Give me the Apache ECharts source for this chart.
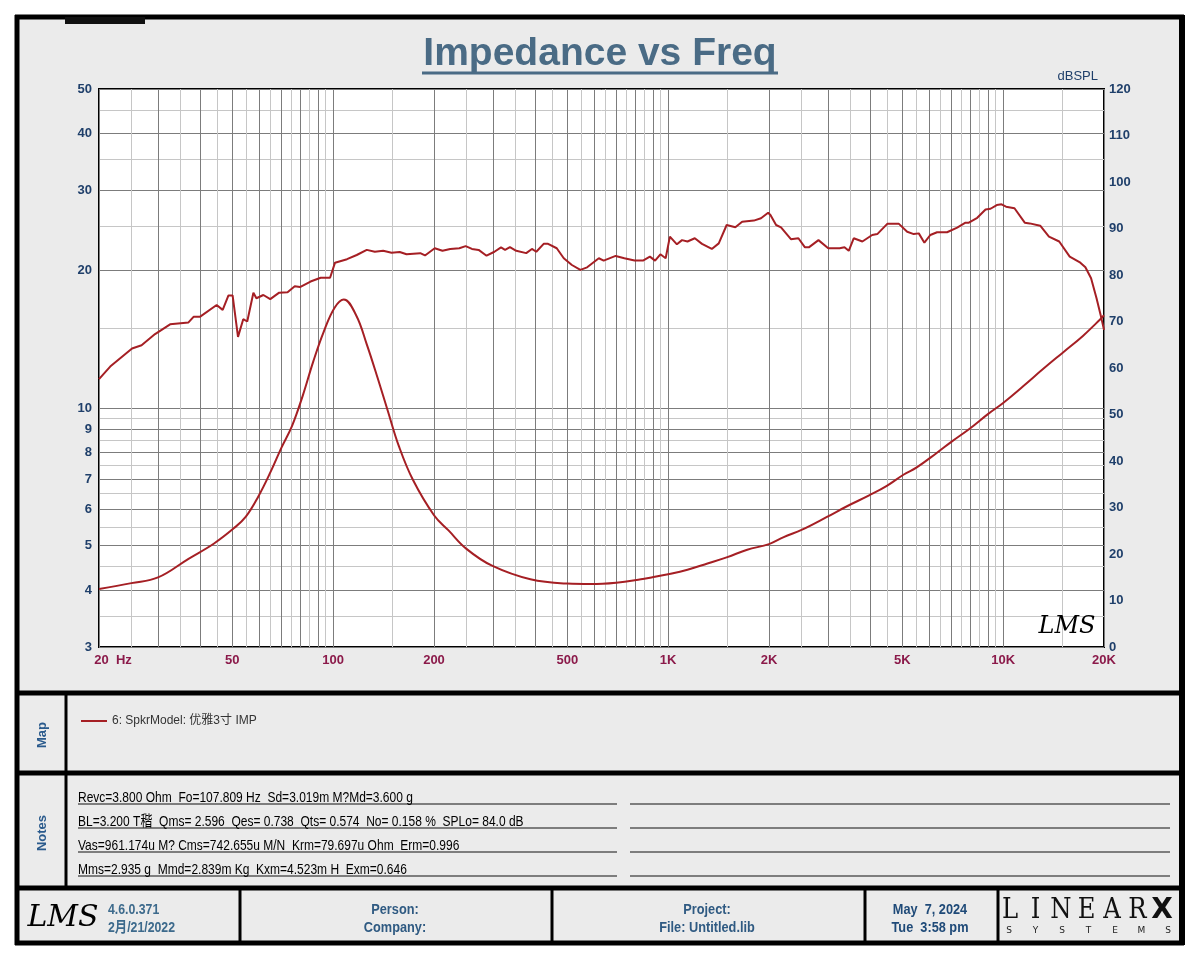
<!DOCTYPE html>
<html>
<head>
<meta charset="utf-8">
<script src="https://cdn.jsdelivr.net/npm/echarts@6.0.0/dist/echarts.min.js"></script>
<style>html,body{margin:0;padding:0;background:#fff;}#c{width:1200px;height:960px;}</style>
</head>
<body>
<div id="c"></div>
<script>
// ---- data ----
const impName = '6: SpkrModel: 优雅3寸 IMP';
const impFreq = [20,25,30,37,44,50.4,54.8,59.8,65.2,70.1,75.4,81.2,87.2,93.7,101,107.6,117,126,136,146,157,173,200,221,250,298,388,500,590,700,829,891,1000,1142,1310,1502,1722,2000,2213,2510,2979,3418,3993,4495,5039,5521,6333,7019,7959,9024,10000,11470,13150,15090,17300,19400,20000];
const impOhm = [4.02,4.14,4.26,4.68,5.05,5.45,5.78,6.41,7.28,8.2,9.15,10.67,12.65,14.7,16.6,17.3,16.0,13.8,11.6,9.8,8.27,6.97,5.83,5.40,4.92,4.52,4.22,4.13,4.12,4.15,4.22,4.26,4.33,4.43,4.57,4.72,4.9,5.04,5.22,5.42,5.78,6.1,6.45,6.76,7.15,7.42,7.98,8.45,9.03,9.72,10.27,11.17,12.18,13.25,14.4,15.6,15.98];
const splFreq = [20,21.6,25.1,26.8,29.4,32.6,37,38.3,40,44.9,46.8,48.7,50.1,52,53.9,55.4,57.8,59,61.9,64.9,69,73.1,76.8,79.6,85.6,91.8,97.9,101.3,110,117.6,126,133.2,141,149.4,158,165.6,182,188,201,212,223.6,238,248.6,259.6,271.8,287,303,317,326,337,352,377,392,404,425,438,465,488,516,547,573,621,642,697,740,794,841,882,914,948,983,1012,1062,1100,1142,1201,1262,1350,1416,1495,1587,1663,1802,1893,1988,2020,2100,2172,2325,2448,2561,2630,2810,3005,3250,3360,3460,3580,3800,4065,4210,4508,4885,5170,5410,5600,5820,6060,6350,6800,7290,7720,7900,8370,8860,9170,9570,9890,10200,10810,11600,12000,12900,13700,14700,15800,17000,17600,18300,19000,19600,20000];
const splDb = [57.6,60.3,64.2,64.9,67.3,69.4,69.8,71.0,71.0,73.55,72.5,75.6,75.6,66.7,70.5,70.0,76.2,75.0,75.7,74.8,76.2,76.3,77.6,77.4,78.6,79.4,79.4,82.65,83.4,84.3,85.4,85.0,85.2,84.8,84.95,84.45,84.7,84.2,85.75,85.2,85.6,85.75,86.2,85.6,85.4,84.15,85.0,85.95,85.4,86.0,85.2,84.7,85.6,85.0,86.7,86.7,85.75,83.6,82.15,81.1,81.65,83.6,83.1,84.1,83.6,83.1,83.1,83.95,83.1,84.45,83.6,88.25,86.6,87.5,87.2,87.9,86.7,85.6,86.8,90.75,90.25,91.45,91.7,92.2,93.4,92.9,90.75,90.25,87.7,87.9,85.95,85.95,87.5,85.75,85.75,85.95,85.2,87.9,87.2,88.6,88.8,91.0,91.0,89.3,88.8,88.95,86.95,88.6,89.2,89.2,90.2,91.25,91.25,92.3,94.1,94.25,95.05,95.2,94.7,94.35,91.25,91.1,90.6,88.25,87.2,83.95,82.65,81.65,79.3,75.0,71.0,68.2];

const xLabelValues = [20,50,100,200,500,1000,2000,5000,10000,20000];
const xLabelText = ['20  Hz','50','100','200','500','1K','2K','5K','10K','20K'];
const yLabelValues = [3,4,5,6,7,8,9,10,20,30,40,50];
const yGridValues = [3,3.5,4,4.5,5,5.5,6,6.5,7,7.5,8,8.5,9,9.5,10,15,20,25,30,35,40,45,50];
const xGridValues = [];
[10,100,1000].forEach(function(d){
  for (let m = (d===10?2:1); m < 10; m += 0.5) xGridValues.push(+(m*d).toFixed(3));
});
xGridValues.push(10000,15000,20000);

const notesLines = [
  'Revc=3.800 Ohm  Fo=107.809 Hz  Sd=3.019m M?Md=3.600 g',
  'BL=3.200 T稭  Qms= 2.596  Qes= 0.738  Qts= 0.574  No= 0.158 %  SPLo= 84.0 dB',
  'Vas=961.174u M? Cms=742.655u M/N  Krm=79.697u Ohm  Erm=0.996',
  'Mms=2.935 g  Mmd=2.839m Kg  Kxm=4.523m H  Exm=0.646'
];

// ---- decoration (frames, panels, texts) ----
const SANS = '"Liberation Sans",Arial,sans-serif';
const G = [];
function rect(x,y,w,h,fill,z){G.push({type:'rect',z:z===undefined?1:z,shape:{x:x,y:y,width:w,height:h},style:{fill:fill}});}
function line(x1,y1,x2,y2,w,c,z){G.push({type:'line',z:z===undefined?50:z,shape:{x1:x1,y1:y1,x2:x2,y2:y2},style:{stroke:c||'#000',lineWidth:w}});}
function text(x,y,t,font,fill,align,rot,sx){G.push({type:'text',z:20,x:x,y:y,rotation:rot||0,scaleX:sx||1,style:{text:t,font:font,fill:fill,align:align||'left',textAlign:align||'left',verticalAlign:'middle',textVerticalAlign:'middle'}});}

rect(17,17,1165,926,'#ebebeb',-5);
// outer frame
line(15,17,1184,17,5);
line(17,15,17,945,5);
line(1182,15,1182,945,6);
line(15,943,1184,943,5);
rect(65,17,80,7,'#111',60);
// section separators
line(17,693,1182,693,5);
line(17,773,1182,773,5);
line(17,888,1182,888,5);
line(66,693,66,888,3);
[240,552,865,998].forEach(function(x){line(x,888,x,943,3);});

// title
text(600,54,'Impedance vs Freq','bold 39px '+SANS,'#4a6b85','center');
line(422,73,778,73,3,'#4a6b85');

// side labels
text(42,735,'Map','bold 13px '+SANS,'#2a5a8c','center',Math.PI/2);
text(42,833,'Notes','bold 13px '+SANS,'#2a5a8c','center',Math.PI/2);

// notes
notesLines.forEach(function(t,i){
  const y = 798 + i*24;
  text(78,y,t,'15px '+SANS+',"Noto Sans CJK SC"','#000','left',0,0.8);
  line(78,y+6,617,y+6,1.2,'#111');
  line(630,y+6,1170,y+6,1.2,'#111');
});

// footer
text(63,918,'LMS','italic 30px "DejaVu Serif",serif','#000','center');
text(108,910,'4.6.0.371','bold 15px '+SANS,'#3d6a8c','left',0,0.82);
text(108,928,'2月/21/2022','bold 15px '+SANS+',"Noto Sans CJK SC"','#3d6a8c','left',0,0.82);
text(395,910,'Person:','bold 15px '+SANS,'#2f5a82','center',0,0.85);
text(395,928,'Company:','bold 15px '+SANS,'#2f5a82','center',0,0.85);
text(707,910,'Project:','bold 15px '+SANS,'#2f5a82','center',0,0.85);
text(707,928,'File: Untitled.lib','bold 15px '+SANS,'#2f5a82','center',0,0.85);
text(930,910,'May  7, 2024','bold 15px '+SANS,'#1f4a78','center',0,0.85);
text(930,928,'Tue  3:58 pm','bold 15px '+SANS,'#1f4a78','center',0,0.85);
'LINEAR'.split('').forEach(function(ch,i){
  text(1010+i*25.5,911,ch,'300 27px "DejaVu Serif","Liberation Serif",serif','#111','center',0,0.9);
});
text(1162,911,'X','900 28px "DejaVu Sans","Liberation Sans",sans-serif','#111','center');
'SYSTEMS'.split('').forEach(function(ch,i){
  text(1009+i*26.5,931,ch,'9px "DejaVu Sans",sans-serif','#222','center');
});
// LMS mark inside plot
text(1067,627,'LMS','italic 24px "DejaVu Serif",serif','#000','center');

const chart = echarts.init(document.getElementById('c'), null, {renderer:'canvas'});
chart.setOption({
  animation: false,
  backgroundColor: '#ffffff',
  graphic: G,
  legend: {
    data: [impName], left: 76, top: 710, selectedMode: false,
    icon: 'rect', itemWidth: 26, itemHeight: 2,
    textStyle: {color: '#333', fontSize: 12, fontFamily: '"Liberation Sans","Noto Sans CJK SC",sans-serif'}
  },
  grid: {left: 99, top: 89, right: 96, bottom: 313, show: true, backgroundColor: '#ffffff', borderColor: '#000', borderWidth: 2, outerBoundsMode: 'none', containLabel: false},
  xAxis: {
    type: 'log', logBase: 10, min: 20, max: 20000,
    axisLine: {show: false},
    axisTick: {show: false, customValues: xGridValues},
    axisLabel: {
      customValues: xLabelValues, margin: 7,
      color: '#8b1a4a', fontWeight: 'bold', fontSize: 13, fontFamily: SANS,
      formatter: function(v){ const i = xLabelValues.indexOf(Math.round(v)); return i === 0 ? '{hz|' + xLabelText[0] + '}' : (i >= 0 ? xLabelText[i] : ''); },
      rich: {hz: {padding: [0,0,0,28], color: '#8b1a4a', fontWeight: 'bold', fontSize: 13, fontFamily: SANS}}
    },
    splitLine: {show: true, lineStyle: {color: ['#7c7c7c','#c6c6c6'], width: 1}}
  },
  yAxis: [
    {
      type: 'log', logBase: 10, min: 3, max: 50, position: 'left',
      axisLine: {show: false},
      axisTick: {show: false, customValues: yGridValues},
      axisLabel: {customValues: yLabelValues, margin: 7, color: '#1f3f6a', fontWeight: 'bold', fontSize: 13, fontFamily: SANS},
      splitLine: {show: true, lineStyle: {color: ['#7c7c7c','#c6c6c6'], width: 1}}
    },
    {
      type: 'value', min: 0, max: 120, interval: 10, position: 'right',
      name: 'dBSPL', nameLocation: 'end', nameGap: 6,
      nameTextStyle: {align: 'right', color: '#1f3f6a', fontSize: 13, fontFamily: SANS, padding: [0,6,0,0]},
      axisLine: {show: false}, axisTick: {show: false},
      axisLabel: {margin: 5, color: '#1f3f6a', fontWeight: 'bold', fontSize: 13, fontFamily: SANS},
      splitLine: {show: false}
    }
  ],
  series: [
    {
      name: impName, type: 'line', yAxisIndex: 0, showSymbol: false, smooth: 0.4,
      data: impFreq.map(function(f,i){return [f, impOhm[i]];}),
      lineStyle: {color: '#a51f24', width: 2}, itemStyle: {color: '#a51f24'}, z: 5
    },
    {
      name: 'SPL', type: 'line', yAxisIndex: 1, showSymbol: false,
      data: splFreq.map(function(f,i){return [f, splDb[i]];}),
      lineStyle: {color: '#a51f24', width: 2}, itemStyle: {color: '#a51f24'}, z: 5
    }
  ]
});
</script>
</body>
</html>
